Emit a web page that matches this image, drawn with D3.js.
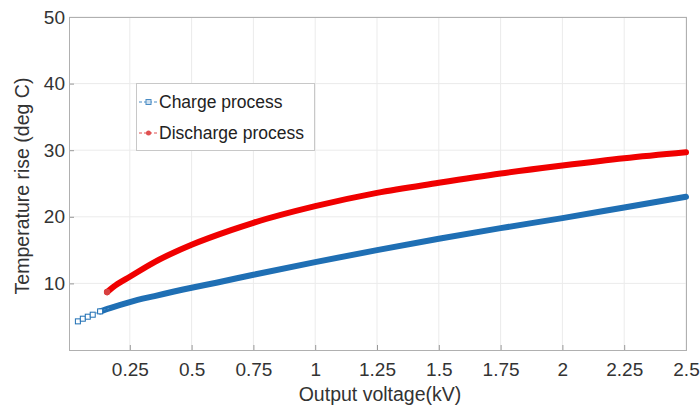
<!DOCTYPE html>
<html>
<head>
<meta charset="utf-8">
<script src="https://cdn.jsdelivr.net/npm/d3@7"></script>
<style>
  body { margin: 0; background: #fff; }
  text { font-family: "Liberation Sans", Arial, sans-serif; }
</style>
</head>
<body>
<div id="chart"></div>
<script>
// values
const chargeX = [0.04, 0.06, 0.08, 0.10, 0.13, 0.17, 0.25, 0.35, 0.5, 0.6, 0.75, 1.0, 1.25, 1.5, 1.75, 2.0, 2.25, 2.5];
const chargeY = [4.3, 4.7, 5.0, 5.3, 5.8, 6.3, 7.2, 8.1, 9.35, 10.1, 11.3, 13.2, 15.0, 16.7, 18.3, 19.8, 21.4, 23.0];
const dischargeX = [0.158, 0.2, 0.25, 0.35, 0.5, 0.66, 0.75, 1.0, 1.25, 1.5, 1.75, 2.0, 2.25, 2.5];
const dischargeY = [8.7, 9.9, 11.0, 13.2, 15.8, 18.0, 19.1, 21.6, 23.6, 25.1, 26.5, 27.7, 28.8, 29.7];
const xTicks = [0.25, 0.5, 0.75, 1, 1.25, 1.5, 1.75, 2, 2.25, 2.5];
const yTicks = [10, 20, 30, 40, 50];
const seriesNames = ["Charge process", "Discharge process"];

const W = 700, H = 408;
const MARGIN = { TOP: 17, BOTTOM: 58, LEFT: 69, RIGHT: 13 };

const svg = d3.select("#chart").append("svg")
  .attr("width", W).attr("height", H);

const x = d3.scaleLinear().domain([0, 2.5]).range([MARGIN.LEFT - 1, W - MARGIN.RIGHT - 1]);
const y = d3.scaleLinear().domain([0, 50]).range([H - MARGIN.BOTTOM, MARGIN.TOP]);

const pLeft = MARGIN.LEFT, pRight = W - MARGIN.RIGHT, pTop = MARGIN.TOP, pBottom = H - MARGIN.BOTTOM;

// grid
const grid = svg.append("g");
grid.selectAll(".gx").data(xTicks).enter().append("line")
  .attr("x1", d => x(d)).attr("x2", d => x(d))
  .attr("y1", pTop).attr("y2", pBottom)
  .attr("stroke", "#ebebeb").attr("stroke-width", 1);
grid.selectAll(".gy").data(yTicks).enter().append("line")
  .attr("x1", pLeft).attr("x2", pRight)
  .attr("y1", d => y(d)).attr("y2", d => y(d))
  .attr("stroke", "#ebebeb").attr("stroke-width", 1);

// axes
const xAxis = svg.append("g").attr("transform", `translate(0, ${pBottom})`)
  .call(d3.axisBottom(x).tickValues(xTicks).tickFormat(d3.format("")).tickSizeInner(-5).tickSizeOuter(0).tickPadding(13));
const yAxis = svg.append("g").attr("transform", `translate(${pLeft}, 0)`)
  .call(d3.axisLeft(y).tickValues(yTicks).tickSizeInner(-5).tickSizeOuter(0).tickPadding(4));

[xAxis, yAxis].forEach(a => {
  a.select(".domain").remove();
  a.selectAll(".tick line").attr("stroke", "#999");
  a.selectAll(".tick text").attr("fill", "#333").style("font-size", "19px");
});

// box
svg.append("rect")
  .attr("x", pLeft + 0.5).attr("y", pTop + 0.5)
  .attr("width", pRight - pLeft - 1).attr("height", pBottom - pTop)
  .attr("fill", "none").attr("stroke", "#b0b0b0").attr("stroke-width", 1);

// labels
svg.append("text")
  .attr("x", 380).attr("y", 401)
  .attr("text-anchor", "middle").attr("fill", "#333")
  .style("font-size", "19.5px").text("Output voltage(kV)");
svg.append("text")
  .attr("transform", `translate(29, 186) rotate(-90)`)
  .attr("text-anchor", "middle").attr("fill", "#333")
  .style("font-size", "19.5px").text("Temperature rise (deg C)");

// lines
const line = d3.line().x(d => x(d[0])).y(d => y(d[1])).curve(d3.curveMonotoneX);
const charge = chargeX.map((v, i) => [v, chargeY[i]]);
const discharge = dischargeX.map((v, i) => [v, dischargeY[i]]);

svg.append("path").datum(charge.slice(4))
  .attr("d", line).attr("fill", "none")
  .attr("stroke", "#1f6fb4").attr("stroke-width", 6).attr("stroke-linecap", "round");
svg.append("path").datum(charge.slice(0, 6))
  .attr("d", line).attr("fill", "none")
  .attr("stroke", "#4a8cc4").attr("stroke-width", 1).attr("stroke-dasharray", "2,2");
svg.selectAll(".cm").data(charge.slice(0, 5)).enter().append("rect")
  .attr("x", d => x(d[0]) - 2.5).attr("y", d => y(d[1]) - 2.5)
  .attr("width", 5).attr("height", 5)
  .attr("fill", "#fff").attr("stroke", "#1f6fb4").attr("stroke-width", 1);

svg.append("path").datum(discharge)
  .attr("d", line).attr("fill", "none")
  .attr("stroke", "#f00000").attr("stroke-width", 6).attr("stroke-linecap", "round");
svg.append("circle")
  .attr("cx", x(discharge[0][0])).attr("cy", y(discharge[0][1])).attr("r", 3.2)
  .attr("fill", "#d84040");

// legend
const lg = svg.append("g");
lg.append("rect")
  .attr("x", 136.5).attr("y", 83.5).attr("width", 178).attr("height", 67)
  .attr("fill", "#fff").attr("stroke", "#c8c8c8");
const colors = ["#4a8cc4", "#e05050"];
seriesNames.forEach((name, i) => {
  const ly = 102 + i * 31;
  lg.append("line")
    .attr("x1", 139).attr("x2", 158).attr("y1", ly).attr("y2", ly)
    .attr("stroke", colors[i]).attr("stroke-width", 1).attr("stroke-dasharray", "3,2");
  if (i === 0) {
    lg.append("rect").attr("x", 146).attr("y", ly - 2.5).attr("width", 5).attr("height", 5)
      .attr("fill", "#cfe0ef").attr("stroke", colors[i]);
  } else {
    lg.append("circle").attr("cx", 148.5).attr("cy", ly).attr("r", 2.5).attr("fill", colors[i]);
  }
  lg.append("text")
    .attr("x", 159).attr("y", ly + 6)
    .attr("fill", "#222").style("font-size", "17.5px").text(name);
});
</script>
</body>
</html>
